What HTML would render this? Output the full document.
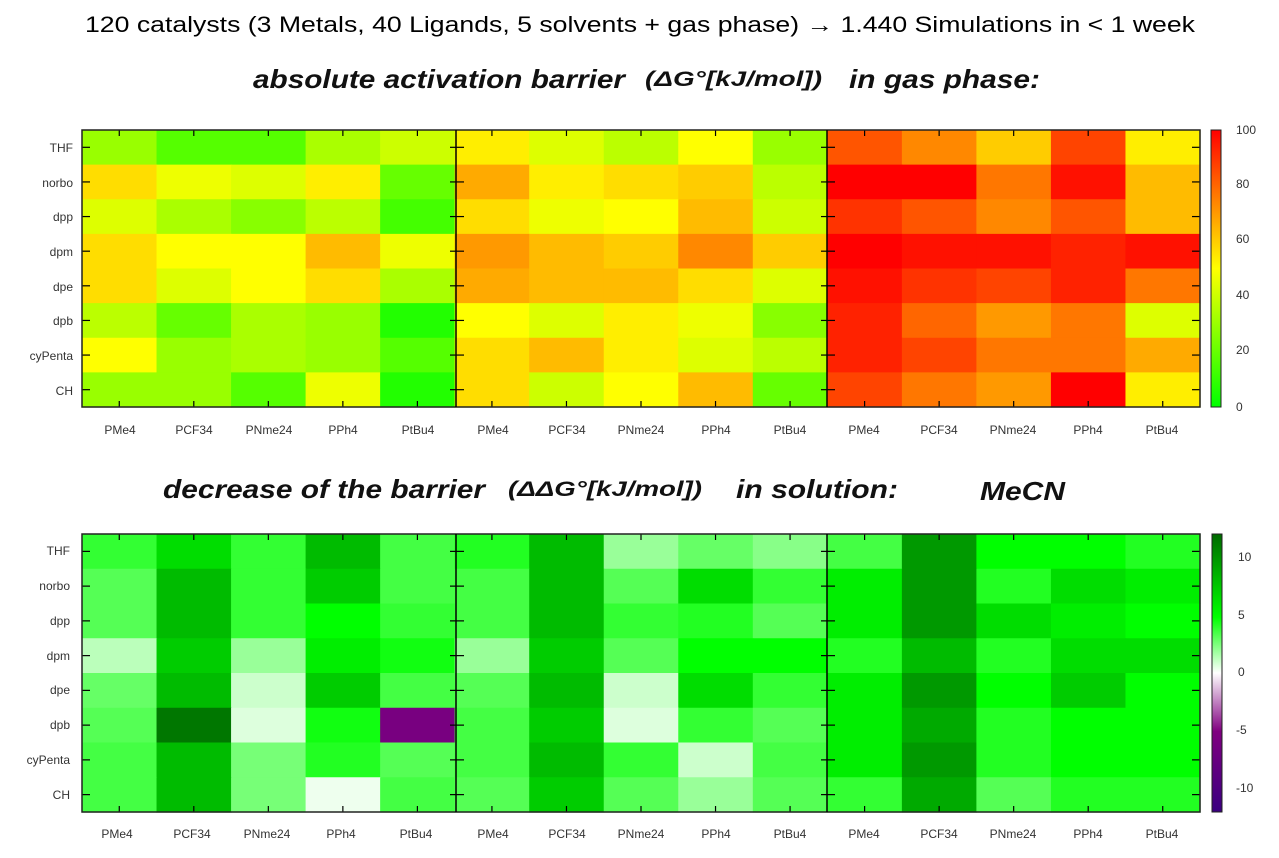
<!DOCTYPE html>
<html><head><meta charset="utf-8"><style>
body{margin:0;background:#fff;width:1279px;height:853px;overflow:hidden}
svg text{font-family:"Liberation Sans",sans-serif}
</style></head><body>
<svg id="s" width="1279" height="853" xmlns="http://www.w3.org/2000/svg">
<defs>
<linearGradient id="g1" x1="0" y1="1" x2="0" y2="0">
<stop offset="0" stop-color="#00ff00"/><stop offset="0.5" stop-color="#ffff00"/><stop offset="1" stop-color="#ff0000"/>
</linearGradient>
<linearGradient id="g2" x1="0" y1="1" x2="0" y2="0">
<stop offset="0" stop-color="#3a0080"/><stop offset="0.29" stop-color="#800080"/><stop offset="0.5" stop-color="#ffffff"/><stop offset="0.7" stop-color="#00ff00"/><stop offset="1" stop-color="#006a00"/>
</linearGradient>
</defs>
<text x="85" y="32" font-size="22" textLength="1110" lengthAdjust="spacingAndGlyphs" fill="#000">120 catalysts (3 Metals, 40 Ligands, 5 solvents + gas phase) → 1.440 Simulations in &lt; 1 week</text>
<g font-weight="bold" font-style="italic" fill="#111" lengthAdjust="spacingAndGlyphs">
<text x="253" y="88" font-size="26" textLength="372" lengthAdjust="spacingAndGlyphs">absolute activation barrier</text>
<text x="645" y="86" font-size="21" textLength="177" lengthAdjust="spacingAndGlyphs">(ΔG°[kJ/mol])</text>
<text x="849" y="88" font-size="26" textLength="191" lengthAdjust="spacingAndGlyphs">in gas phase:</text>
<text x="163" y="498" font-size="26" textLength="322" lengthAdjust="spacingAndGlyphs">decrease of the barrier</text>
<text x="508" y="496" font-size="21" textLength="194" lengthAdjust="spacingAndGlyphs">(ΔΔG°[kJ/mol])</text>
<text x="736" y="498" font-size="26" textLength="162" lengthAdjust="spacingAndGlyphs">in solution:</text>
<text x="980" y="500" font-size="26" textLength="85" lengthAdjust="spacingAndGlyphs">MeCN</text>
</g>
<g id="cells"></g>
<g id="ticks" stroke="#000" stroke-width="1.2"></g>
<rect x="82" y="130" width="1118" height="277" fill="none" stroke="#222" stroke-width="1.5"/>
<rect x="82" y="534" width="1118" height="278" fill="none" stroke="#222" stroke-width="1.5"/>
<line x1="456" y1="130" x2="456" y2="407" stroke="#000" stroke-width="1.5"/>
<line x1="827" y1="130" x2="827" y2="407" stroke="#000" stroke-width="1.5"/>
<line x1="456" y1="534" x2="456" y2="812" stroke="#000" stroke-width="1.5"/>
<line x1="827" y1="534" x2="827" y2="812" stroke="#000" stroke-width="1.5"/>
<rect x="1211" y="130" width="10" height="277" fill="url(#g1)" stroke="#222"/>
<rect x="1212" y="534" width="10" height="278" fill="url(#g2)" stroke="#222"/>
<g font-size="12" fill="#333">
<text x="1236" y="134">100</text><text x="1236" y="188">80</text><text x="1236" y="243">60</text><text x="1236" y="299">40</text><text x="1236" y="354">20</text><text x="1236" y="411">0</text>
<text x="1238" y="561">10</text><text x="1238" y="619">5</text><text x="1238" y="676">0</text><text x="1236" y="734">-5</text><text x="1236" y="792">-10</text>
</g>
<g font-size="12" fill="#333" text-anchor="end">
<text x="73" y="152">THF</text><text x="73" y="187">norbo</text><text x="73" y="221">dpp</text><text x="73" y="256">dpm</text><text x="73" y="291">dpe</text><text x="73" y="325">dpb</text><text x="73" y="360">cyPenta</text><text x="73" y="395">CH</text>
<text x="70" y="555">THF</text><text x="70" y="590">norbo</text><text x="70" y="625">dpp</text><text x="70" y="660">dpm</text><text x="70" y="694">dpe</text><text x="70" y="729">dpb</text><text x="70" y="764">cyPenta</text><text x="70" y="799">CH</text>
</g>
<g font-size="12" fill="#333" text-anchor="middle">
<text x="120" y="434">PMe4</text><text x="194" y="434">PCF34</text><text x="269" y="434">PNme24</text><text x="343" y="434">PPh4</text><text x="418" y="434">PtBu4</text>
<text x="493" y="434">PMe4</text><text x="567" y="434">PCF34</text><text x="641" y="434">PNme24</text><text x="716" y="434">PPh4</text><text x="790" y="434">PtBu4</text>
<text x="864" y="434">PMe4</text><text x="939" y="434">PCF34</text><text x="1013" y="434">PNme24</text><text x="1088" y="434">PPh4</text><text x="1162" y="434">PtBu4</text>
<text x="117" y="838">PMe4</text><text x="192" y="838">PCF34</text><text x="267" y="838">PNme24</text><text x="341" y="838">PPh4</text><text x="416" y="838">PtBu4</text>
<text x="493" y="838">PMe4</text><text x="567" y="838">PCF34</text><text x="641" y="838">PNme24</text><text x="716" y="838">PPh4</text><text x="790" y="838">PtBu4</text>
<text x="864" y="838">PMe4</text><text x="939" y="838">PCF34</text><text x="1013" y="838">PNme24</text><text x="1088" y="838">PPh4</text><text x="1162" y="838">PtBu4</text>
</g>
</svg>
<script>
var topD=[
["9f0 5f0 5f0 af0 cf0","fe0 df0 bf0 ff0 9f0","f50 f80 fc0 f40 fe0"],
["fd0 ef0 df0 fe0 6f0","fa0 fe0 fd0 fc0 bf0","f00 f00 f70 f10 fb0"],
["df0 af0 8f0 bf0 4f0","fd0 ef0 ff0 fb0 cf0","f30 f50 f80 f50 fb0"],
["fd0 ff0 ff0 fb0 ef0","f90 fb0 fc0 f80 fc0","f00 f10 f10 f20 f10"],
["fd0 df0 ff0 fd0 af0","fa0 fb0 fb0 fd0 df0","f10 f30 f40 f20 f70"],
["bf0 6f0 af0 9f0 2f0","ff0 df0 fe0 ef0 8f0","f20 f60 f90 f70 df0"],
["ff0 9f0 af0 9f0 5f0","fd0 fb0 fe0 df0 bf0","f20 f40 f70 f70 fa0"],
["9f0 9f0 5f0 ef0 2f0","fd0 cf0 ff0 fb0 6f0","f40 f70 f90 f00 fe0"]];
var botD=[
["3f3 0d0 3f3 0b0 4f4","2f2 0b0 9f9 6f6 8f8","4f4 090 0f0 0f0 2f2"],
["5f5 0b0 3f3 0c0 4f4","4f4 0b0 5f5 0d0 3f3","0e0 090 2f2 0d0 0e0"],
["5f5 0b0 3f3 0f0 3f3","4f4 0b0 3f3 2f2 5f5","0e0 090 0d0 0e0 0f0"],
["bfb 0c0 9f9 0e0 1f1","9f9 0c0 5f5 0f0 0f0","2f2 0b0 2f2 0d0 0d0"],
["6f6 0b0 cfc 0c0 4f4","5f5 0b0 cfc 0d0 3f3","0e0 090 0f0 0c0 0f0"],
["5f5 070 dfd 1f1 708","4f4 0c0 dfd 3f3 5f5","0e0 0a0 2f2 0f0 0f0"],
["4f4 0b0 7f7 2f2 5f5","4f4 0b0 3f3 cfc 4f4","0e0 090 2f2 0f0 0f0"],
["4f4 0b0 7f7 efe 4f4","5f5 0c0 5f5 9f9 5f5","3f3 0a0 5f5 2f2 2f2"]];
(function(){
var ns="http://www.w3.org/2000/svg",g=document.getElementById("cells"),t=document.getElementById("ticks");
function el(p,n,a){var e=document.createElementNS(ns,n);for(var k in a)e.setAttribute(k,a[k]);p.appendChild(e);}
var cw=1118/15;
function draw(d,y0,h){var rh=h/8;
for(var r=0;r<8;r++)for(var p=0;p<3;p++){var c=d[r][p].split(" ");for(var i=0;i<5;i++){var col=c[i]=="708"?"#780080":"#"+c[i];
el(g,"rect",{x:82+(p*5+i)*cw,y:y0+r*rh,width:cw+0.6,height:rh+0.6,fill:col});}}
for(var j=0;j<15;j++){var x=82+(j+0.5)*cw;el(t,"line",{x1:x,y1:y0,x2:x,y2:y0+6});el(t,"line",{x1:x,y1:y0+h,x2:x,y2:y0+h-6});}
for(var r=0;r<8;r++){var y=y0+(r+0.5)*rh;[82,456,827].forEach(function(x){el(t,"line",{x1:x-(x==82?0:6),y1:y,x2:x+8,y2:y});});el(t,"line",{x1:1192,y1:y,x2:1200,y2:y});}}
draw(topD,130,277);draw(botD,534,278);
})();
</script>
</body></html>
